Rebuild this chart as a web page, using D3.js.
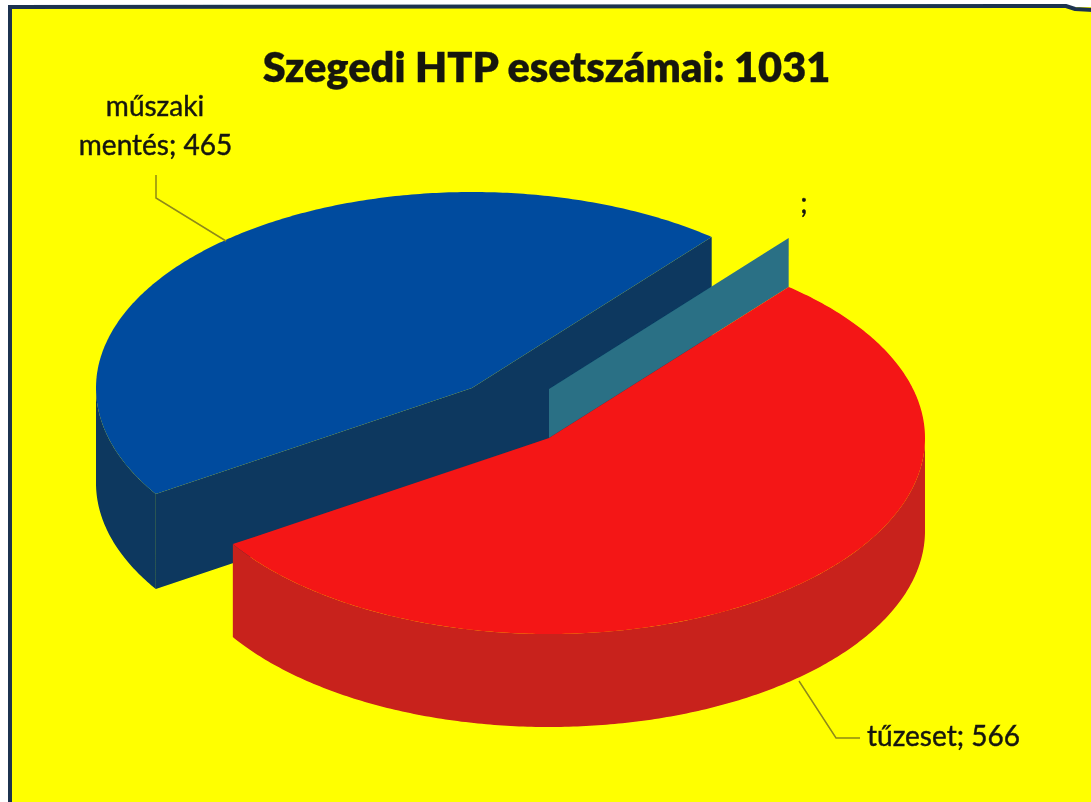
<!DOCTYPE html>
<html><head><meta charset="utf-8">
<script src="https://cdn.jsdelivr.net/npm/d3@7"></script>
<style>html,body{margin:0;padding:0;background:#fff;overflow:hidden}svg{display:block}text{font-family:Lato,"Open Sans",sans-serif;fill:#17170f;stroke:#17170f}</style>
</head><body><svg id="c" width="1091" height="802"></svg>
<script>
const categories = ["tűzeset", "műszaki mentés", ""];
const values = [566, 465, 0];
const titleText = "Szegedi HTP esetszámai: 1031";
const topColors = ["#f41612", "#044c9e", "#2a6f85"];
const sideColors = ["#c8221a", "#07395f", "#2a6f85"];

const W = 1091, H = 802;
const svg = d3.select("#c");
const defs = svg.append("defs");
defs.append("filter").attr("id", "soft").append("feGaussianBlur").attr("stdDeviation", 0.45);
const root = svg.append("g").attr("filter", "url(#soft)");
const cx = 549, cy = 438, rx = 376, ry = 196;
const explode = [[0, 0], [-77, -50], [0, 0]];
const depths = [93, 95, 0];
const hiddenFaceDepth = 102;
const tealDepth = 49;
const startDeg = 39.6;

const pie = d3.pie().sort(null).startAngle(startDeg * Math.PI / 180).endAngle((startDeg + 360) * Math.PI / 180);
const arcs = pie(values);

const xs = d3.scaleLinear().domain([-1, 1]).range([cx - rx, cx + rx]);
const ys = d3.scaleLinear().domain([-1, 1]).range([cy - ry, cy + ry]);
const line = d3.line();
const pt = (a, i, dz = 0) => [xs(Math.sin(a)) + explode[i][0], ys(-Math.cos(a)) + explode[i][1] + dz];
const centre = (i, dz = 0) => [xs(0) + explode[i][0], ys(0) + explode[i][1] + dz];
const arcPts = (a0, a1, i, dz = 0) => {
  const n = Math.max(2, Math.ceil((a1 - a0) * 90));
  return d3.range(n + 1).map(k => pt(a0 + (a1 - a0) * k / n, i, dz));
};

// frame
root.append("rect").attr("x", 9).attr("y", 7).attr("width", W - 9 + 4).attr("height", H - 7 + 4).attr("fill", "#ffff06");
root.append("path").attr("d", line([[10, H + 4], [10, 7], [1066, 6], [1075, 9], [W + 4, 10]]))
  .attr("fill", "none").attr("stroke", "#1b3350").attr("stroke-width", 4);

// blue slice
const blue = arcs[1];
const g = root.append("g");
const wallA0 = Math.max(blue.startAngle, Math.PI), wallA1 = Math.min(blue.endAngle, 3 * Math.PI / 2);
g.append("path").attr("fill", sideColors[1])
  .attr("d", line([...arcPts(wallA0, wallA1, 1), ...arcPts(wallA0, wallA1, 1, depths[1]).reverse()]) + "Z");
[[blue.startAngle, depths[1]], [blue.endAngle, hiddenFaceDepth]].forEach(([a, d]) => {
  g.append("path").attr("fill", sideColors[1])
    .attr("d", line([centre(1), pt(a, 1), pt(a, 1, d), centre(1, d)]) + "Z");
});
g.append("path").attr("fill", topColors[1])
  .attr("d", line([centre(1), ...arcPts(blue.startAngle, blue.endAngle, 1)]) + "Z");

// zero-value slice: only its cut face shows
const zero = arcs[2];
g.append("path").attr("fill", sideColors[2])
  .attr("d", line([centre(2), pt(zero.startAngle, 2), pt(zero.startAngle, 2, -tealDepth), centre(2, -tealDepth)]) + "Z");

// red slice
const red = arcs[0];
const redWall0 = Math.max(red.startAngle, Math.PI / 2), redWall1 = red.endAngle;
g.append("path").attr("fill", sideColors[0])
  .attr("d", line([...arcPts(redWall0, redWall1, 0), ...arcPts(redWall0, redWall1, 0, depths[0]).reverse()]) + "Z");
g.append("path").attr("fill", topColors[0])
  .attr("d", line([centre(0), ...arcPts(red.startAngle, red.endAngle, 0)]) + "Z");

// leader lines
const leaders = [[[156, 175], [156, 198], [226, 241]], [[799, 681], [836, 738], [860, 738]]];
root.selectAll("path.leader").data(leaders).join("path").attr("class", "leader")
  .attr("d", d => line(d)).attr("fill", "none").attr("stroke", "#8f8a16").attr("stroke-width", 1.5);

// text
root.append("text").attr("x", 546.5).attr("y", 82).attr("text-anchor", "middle")
  .attr("font-size", 41.5).attr("font-weight", 800).attr("stroke-width", 0.3).text(titleText);
const [mu, me] = categories[1].split(" ");
const label = (t, x, y) => root.append("text").attr("x", x).attr("y", y).attr("text-anchor", "middle")
  .attr("font-size", 28).attr("stroke-width", 0.45).text(t);
label(mu, 155, 116);
label(`${me}; ${values[1]}`, 155.5, 155);
label(`${categories[0]}; ${values[0]}`, 943.5, 746);
label(`${categories[2]};`, 804, 213);
</script></body></html>
